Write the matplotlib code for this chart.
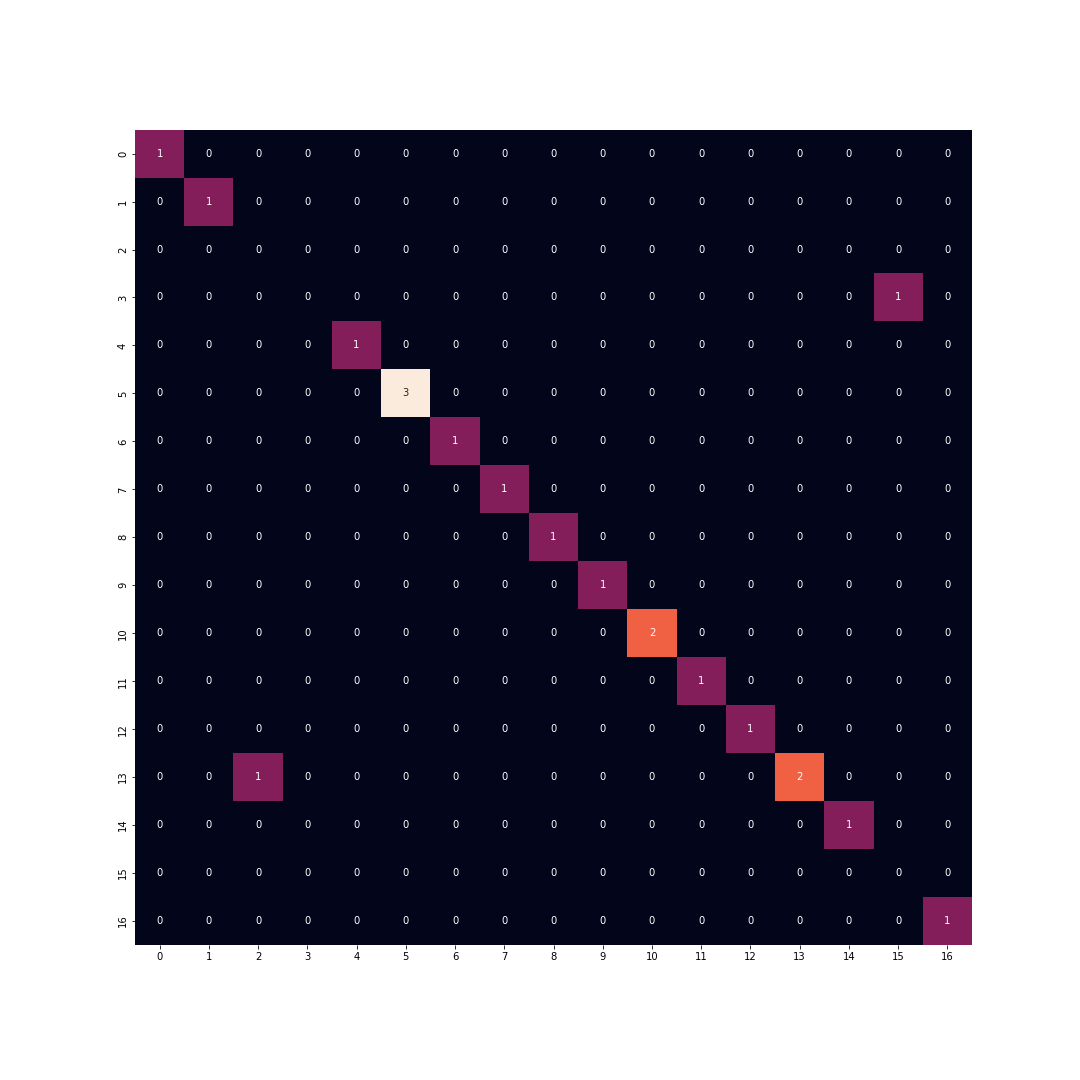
import numpy as np
import matplotlib
matplotlib.use("Agg")
import matplotlib.pyplot as plt
import seaborn as sns

labels = list(range(17))

# (row, col, count) for the non-zero cells of the confusion matrix
rows = [0, 1, 3, 4, 5, 6, 7, 8, 9, 10, 11, 12, 13, 13, 14, 16]
cols = [0, 1, 15, 4, 5, 6, 7, 8, 9, 10, 11, 12, 2, 13, 14, 16]
counts = [1, 1, 1, 1, 3, 1, 1, 1, 1, 2, 1, 1, 1, 2, 1, 1]

cm = np.zeros((len(labels), len(labels)), dtype=int)
for r, c, v in zip(rows, cols, counts):
    cm[r, c] = v

fig = plt.figure(figsize=(15, 15), dpi=72)
fig.subplots_adjust(left=0.125, right=0.9, bottom=0.125, top=0.88)
ax = fig.add_subplot(111)
sns.heatmap(cm, annot=True, fmt="d", cbar=False, ax=ax,
            xticklabels=labels, yticklabels=labels)
plt.setp(ax.get_yticklabels(), rotation=90, va="center")
plt.setp(ax.get_xticklabels(), rotation=0)

fig.savefig("out.png", dpi=72)
